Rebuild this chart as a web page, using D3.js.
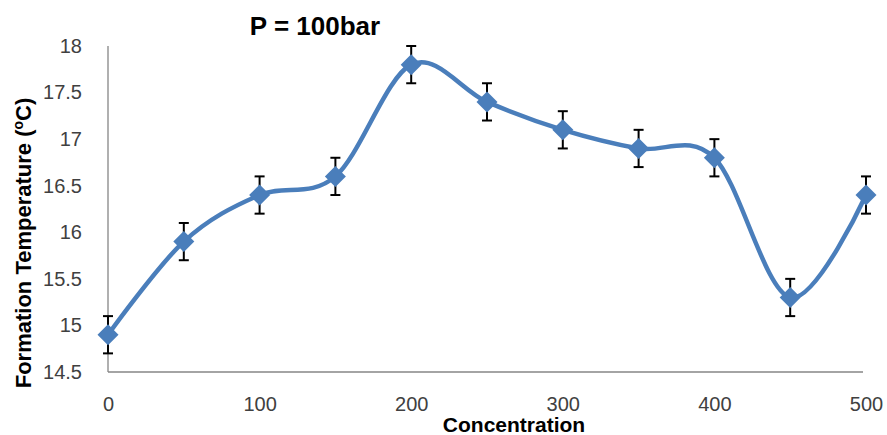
<!DOCTYPE html>
<html>
<head>
<meta charset="utf-8">
<script src="https://cdn.jsdelivr.net/npm/d3@7"></script>
<style>
  html, body { margin: 0; padding: 0; background: #fff; }
  svg { display: block; }
</style>
</head>
<body>
<svg id="chart" width="887" height="435"></svg>
<script>
// ---- data ----
const concentrations = [0, 50, 100, 150, 200, 250, 300, 350, 400, 450, 500];
const temperatures   = [14.9, 15.9, 16.4, 16.6, 17.8, 17.4, 17.1, 16.9, 16.8, 15.3, 16.4];
const errors         = [0.2, 0.2, 0.2, 0.2, 0.2, 0.2, 0.2, 0.2, 0.2, 0.2, 0.2];
const xTicks = [0, 100, 200, 300, 400, 500];
const yTicks = [14.5, 15, 15.5, 16, 16.5, 17, 17.5, 18];
const titleText = "P = 100bar";
const xTitle = "Concentration";

const data = concentrations.map((c, i) => ({ x: c, y: temperatures[i], e: errors[i] }));

const svg = d3.select("#chart");
const font = "'Liberation Sans', Arial, sans-serif";

const x = d3.scaleLinear().domain([0, 500]).range([108, 866]);
const y = d3.scaleLinear().domain([14.5, 18]).range([372, 46]);

// axes lines
const axisColor = "#868686";
svg.append("line")
  .attr("x1", x(0)).attr("x2", x(0))
  .attr("y1", y(18)).attr("y2", y(14.5))
  .attr("stroke", axisColor).attr("stroke-width", 1.3);
svg.append("line")
  .attr("x1", x(0)).attr("x2", x(500) - 3)
  .attr("y1", y(14.5)).attr("y2", y(14.5))
  .attr("stroke", axisColor).attr("stroke-width", 1.3);

// y tick labels via axis
const yAxis = d3.axisLeft(y).tickValues(yTicks).tickSize(0).tickPadding(26)
  .tickFormat(d => String(d));
const gy = svg.append("g").attr("transform", `translate(${x(0)},0)`).call(yAxis);
gy.select(".domain").remove();
gy.selectAll("text").attr("font-family", font).attr("font-size", 20).attr("fill", "#404040");

// x tick labels via axis
const xAxis = d3.axisBottom(x).tickValues(xTicks).tickSize(0).tickPadding(25)
  .tickFormat(d => String(d));
const gx = svg.append("g").attr("transform", `translate(0,${y(14.5)})`).call(xAxis);
gx.select(".domain").remove();
gx.selectAll("text").attr("font-family", font).attr("font-size", 20).attr("fill", "#404040");

// smoothed line
const line = d3.line()
  .x(d => x(d.x)).y(d => y(d.y))
  .curve(d3.curveCardinal.tension(0));
svg.append("path")
  .datum(data)
  .attr("d", line)
  .attr("fill", "none")
  .attr("stroke", "#4A7EBB")
  .attr("stroke-width", 4.5)
  .attr("stroke-linecap", "round");

// error bars
const eb = svg.append("g").attr("stroke", "#000").attr("stroke-width", 2);
data.forEach(d => {
  const cx = x(d.x), yt = y(d.y + d.e), yb = y(d.y - d.e);
  eb.append("line").attr("x1", cx).attr("x2", cx).attr("y1", yt).attr("y2", yb);
  eb.append("line").attr("x1", cx - 5).attr("x2", cx + 5).attr("y1", yt).attr("y2", yt);
  eb.append("line").attr("x1", cx - 5).attr("x2", cx + 5).attr("y1", yb).attr("y2", yb);
});

// diamond markers
const s = 10.5;
svg.append("g").selectAll("path")
  .data(data).join("path")
  .attr("transform", d => `translate(${x(d.x)},${y(d.y)})`)
  .attr("d", `M0,${-s}L${s},0L0,${s}L${-s},0Z`)
  .attr("fill", "#4A7EBB");

// chart title
svg.append("text")
  .attr("x", 315).attr("y", 35)
  .attr("text-anchor", "middle")
  .attr("font-family", font).attr("font-weight", "bold").attr("font-size", 26)
  .attr("fill", "#000")
  .text(titleText);

// x axis title
svg.append("text")
  .attr("x", 514).attr("y", 432)
  .attr("text-anchor", "middle")
  .attr("font-family", font).attr("font-weight", "bold").attr("font-size", 21)
  .attr("fill", "#000")
  .text(xTitle);

// y axis title
const yt = svg.append("text")
  .attr("transform", "translate(31,243) rotate(-90)")
  .attr("text-anchor", "middle")
  .attr("font-family", font).attr("font-weight", "bold").attr("font-size", 22)
  .attr("fill", "#000");
yt.append("tspan").text("Formation Temperature (");
yt.append("tspan").attr("font-size", 14).attr("baseline-shift", "super").text("o");
yt.append("tspan").text("C)");
</script>
</body>
</html>
